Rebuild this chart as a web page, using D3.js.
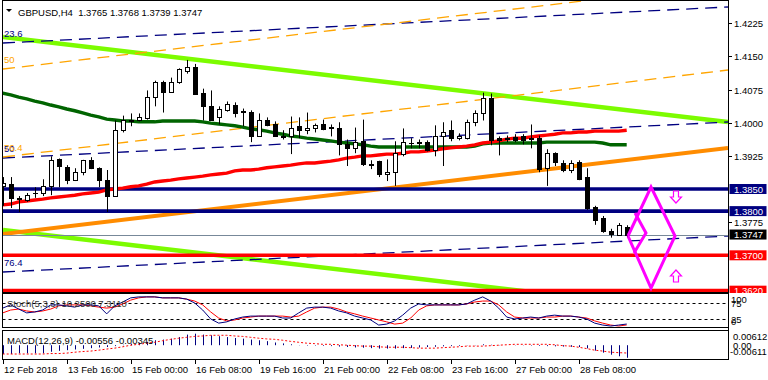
<!DOCTYPE html>
<html><head><meta charset="utf-8">
<script src="https://cdn.jsdelivr.net/npm/d3@7"></script>
<style>
body{margin:0;background:#fff}
svg{display:block}
text{font-family:"Liberation Sans",Arial,sans-serif;font-size:9.5px}
</style>
</head><body>
<svg id="c" width="768" height="380"></svg>
<script>
// ---------- DATA ----------
const symbolTitle = "GBPUSD,H4  1.3765 1.3768 1.3739 1.3747";
const open  = [1.3857,1.3861,1.3829,1.3825,1.3840,1.3841,1.3857,1.3917,1.3899,1.3870,
 1.3888,1.3915,1.3897,1.3870,1.3834,1.3983,1.4004,1.4005,1.4010,1.4059,
 1.4091,1.4070,1.4091,1.4118,1.4127,1.4068,1.4037,1.4012,1.4028,1.4041,
 1.4026,1.4025,1.3969,1.4007,1.3998,1.3971,1.3969,1.3992,1.3983,1.3987,
 1.3996,1.3990,1.3989,1.3951,1.3942,1.3958,1.3907,1.3913,1.3884,1.3888,
 1.3929,1.3954,1.3955,1.3956,1.3938,1.3969,1.3983,1.3965,1.3965,1.4001,
 1.4023,1.4057,1.3965,1.3966,1.3967,1.3969,1.3965,1.3965,1.3897,1.3931,
 1.3908,1.3893,1.3911,1.3877,1.3809,1.3785,1.3755,1.3746,1.3765];
const high  = [1.3877,1.3877,1.3834,1.3841,1.3854,1.3872,1.3924,1.3919,1.3904,1.3897,
 1.3916,1.3922,1.3899,1.3893,1.4005,1.4016,1.4021,1.4021,1.4073,1.4095,
 1.4095,1.4102,1.4123,1.4142,1.4133,1.4077,1.4073,1.4037,1.4048,1.4046,
 1.4032,1.4028,1.4021,1.4012,1.4003,1.3983,1.4014,1.4012,1.4023,1.3998,
 1.4007,1.3996,1.4001,1.3962,1.3989,1.4007,1.3915,1.3914,1.3917,1.3958,
 1.3987,1.3965,1.3962,1.3960,1.3994,1.4001,1.4005,1.3976,1.4007,1.4028,
 1.4068,1.4066,1.3969,1.3971,1.3974,1.3974,1.3996,1.3971,1.3940,1.3933,
 1.3915,1.3915,1.3915,1.3897,1.3812,1.3789,1.3760,1.3773,1.3768];
const low   = [1.3812,1.3807,1.3798,1.3821,1.3830,1.3834,1.3836,1.3854,1.3861,1.3868,
 1.3881,1.3895,1.3854,1.3798,1.3832,1.3978,1.3992,1.4003,1.4007,1.4037,
 1.4023,1.4068,1.4088,1.4111,1.4063,1.4005,1.4005,1.3996,1.4025,1.4012,
 1.3992,1.3956,1.3968,1.3992,1.3968,1.3962,1.3929,1.3965,1.3974,1.3978,
 1.3983,1.3969,1.3926,1.3902,1.3931,1.3902,1.3895,1.3877,1.3868,1.3857,
 1.3924,1.3942,1.3942,1.3935,1.3924,1.3902,1.3958,1.3960,1.3962,1.3992,
 1.4005,1.3949,1.3926,1.3956,1.3956,1.3951,1.3942,1.3888,1.3857,1.3902,
 1.3888,1.3886,1.3870,1.3803,1.3769,1.3751,1.3740,1.3744,1.3739];
const close = [1.3863,1.3830,1.3827,1.3836,1.3842,1.3857,1.3915,1.3902,1.3870,1.3888,
 1.3915,1.3897,1.3870,1.3834,1.3983,1.4005,1.4006,1.4014,1.4059,1.4091,
 1.4070,1.4091,1.4122,1.4127,1.4064,1.4037,1.4007,1.4032,1.4043,1.4023,
 1.4024,1.3969,1.4005,1.3994,1.3969,1.3967,1.3987,1.3983,1.3987,1.3994,
 1.3985,1.3989,1.3951,1.3942,1.3956,1.3906,1.3905,1.3884,1.3888,1.3931,
 1.3956,1.3953,1.3957,1.3938,1.3969,1.3978,1.3965,1.3971,1.4001,1.4023,
 1.4057,1.3960,1.3960,1.3964,1.3962,1.3962,1.3964,1.3895,1.3931,1.3911,
 1.3893,1.3908,1.3872,1.3807,1.3780,1.3755,1.3749,1.3769,1.3747];

const maSlow = [1.4067,1.4063,1.4058,1.4054,1.4049,1.4045,1.4040,1.4036,1.4031,1.4027,
 1.4022,1.4017,1.4013,1.4008,1.4006,1.4004,1.4004,1.4002,1.4002,1.4002,
 1.4004,1.4004,1.4004,1.4004,1.4004,1.4002,1.3999,1.3997,1.3995,1.3993,
 1.3990,1.3986,1.3984,1.3981,1.3977,1.3974,1.3970,1.3968,1.3965,1.3963,
 1.3961,1.3959,1.3956,1.3954,1.3952,1.3950,1.3947,1.3945,1.3945,1.3945,
 1.3945,1.3945,1.3945,1.3945,1.3945,1.3945,1.3945,1.3945,1.3945,1.3947,
 1.3952,1.3954,1.3954,1.3954,1.3954,1.3954,1.3954,1.3954,1.3956,1.3956,
 1.3956,1.3956,1.3956,1.3956,1.3956,1.3954,1.3950,1.3950,1.3950];
const maFast = [1.3814,1.3816,1.3821,1.3823,1.3825,1.3827,1.3830,1.3832,1.3834,1.3836,
 1.3839,1.3841,1.3843,1.3848,1.3850,1.3852,1.3855,1.3857,1.3861,1.3866,
 1.3868,1.3870,1.3873,1.3875,1.3877,1.3879,1.3882,1.3884,1.3886,1.3891,
 1.3893,1.3893,1.3895,1.3898,1.3900,1.3902,1.3904,1.3907,1.3909,1.3909,
 1.3911,1.3913,1.3916,1.3920,1.3922,1.3925,1.3925,1.3927,1.3929,1.3929,
 1.3931,1.3934,1.3934,1.3936,1.3938,1.3941,1.3943,1.3945,1.3947,1.3950,
 1.3954,1.3956,1.3959,1.3963,1.3965,1.3965,1.3968,1.3970,1.3972,1.3974,
 1.3977,1.3977,1.3979,1.3979,1.3981,1.3981,1.3981,1.3981,1.3983];

const stochMain = [60,70,57,45,48,54,70,70,67,63, 70,70,67,42,67,79,92,95,95,95,
 92,92,92,88,76,54,26,13,17,26, 32,35,35,35,35,29,29,45,60,63,
 63,60,51,45,35,29,23,7,10,20, 38,60,73,70,70,70,70,70,73,85,
 95,82,60,32,26,29,32,29,35,38, 35,35,32,26,13,7,4,7,10.25];
const stochSignal = [45,54,57,51,48,51,57,67,70,70, 70,67,63,60,63,73,85,92,95,95,
 92,92,92,88,82,70,48,29,20,23, 29,32,35,35,35,35,32,35,48,60,
 63,63,57,48,42,35,29,23,17,10, 13,29,54,67,70,70,70,70,73,79,
 82,82,70,48,32,29,29,29,32,32, 35,35,32,29,20,13,7,4,7.31];

const macdMain = [-0.0039,-0.0039,-0.0036,-0.0036,-0.0036,-0.0036,-0.0029,-0.0025,-0.0022,-0.0019,
 -0.0016,-0.0013,-0.0010,-0.0008,-0.0004,0.0002,0.0007,0.0011,0.0015,0.0022,
 0.0025,0.0029,0.0036,0.0047,0.0051,0.0047,0.0044,0.0040,0.0036,0.0032,
 0.0029,0.0025,0.0022,0.0018,0.0012,0.0008,0.0004,-0.0001,-0.0002,-0.0002,
 -0.0003,-0.0004,-0.0006,-0.0008,-0.0010,-0.0011,-0.0013,-0.0015,-0.0015,-0.0015,
 -0.0013,-0.0012,-0.0010,-0.0008,-0.0007,-0.0005,-0.0004,-0.0003,-0.0001,0.0001,
 0.0004,0.0002,0.0001,0.0000,-0.0001,-0.0001,-0.0002,-0.0003,-0.0004,-0.0005,
 -0.0006,-0.0007,-0.0008,-0.0014,-0.0024,-0.0033,-0.0042,-0.0049,-0.00556];
const macdSignal = [-0.0039,-0.0039,-0.0039,-0.0039,-0.0039,-0.0039,-0.0037,-0.0037,-0.0035,-0.0031,
 -0.0028,-0.0026,-0.0022,-0.0017,-0.0013,-0.0007,0.0000,0.0004,0.0009,0.0013,
 0.0020,0.0026,0.0031,0.0035,0.0039,0.0041,0.0044,0.0044,0.0044,0.0041,
 0.0039,0.0035,0.0031,0.0028,0.0026,0.0022,0.0017,0.0013,0.0009,0.0007,
 0.0004,0.0004,0.0002,0.0000,-0.0002,-0.0004,-0.0004,-0.0007,-0.0009,-0.0009,
 -0.0009,-0.0011,-0.0013,-0.0013,-0.0013,-0.0011,-0.0009,-0.0007,-0.0004,-0.0004,
 -0.0004,-0.0002,0.0000,0.0002,0.0004,0.0004,0.0004,0.0004,0.0004,0.0002,
 -0.0002,-0.0004,-0.0009,-0.0015,-0.0022,-0.0026,-0.0031,-0.0033,-0.00345];

const timeTickIndex = [0,8,16,24,32,40,48,56,64,72];
const timeTickLabels = ["12 Feb 2018","13 Feb 16:00","15 Feb 00:00","16 Feb 08:00","19 Feb 16:00",
 "21 Feb 00:00","22 Feb 08:00","23 Feb 16:00","27 Feb 00:00","28 Feb 08:00"];
const priceTicks = [1.4225,1.4150,1.4075,1.4000,1.3925,1.3775];
const levelPrices = [1.3850,1.3800,1.3700,1.3620];
const levelKinds  = ["blue","blue","red","red"];
const bidPrice = 1.3747;
const stochLevels = [75,25];
const stochAxisLabels = ["100","75","25","0"];
const stochAxisValues = [100,75,25,0];
const macdAxisValues = [0.00612,0.00,-0.00611];
const macdAxisLabels = ["0.00612","0.00","-0.00611"];
const stochTitle = "Stoch(5,3,3) 10.2500 7.3110";
const macdTitle = "MACD(12,26,9) -0.00556 -0.00345";

// trend objects: anchor (bar index, price) pairs
const lineNames = ["limeTop","limeBottom","orangeBase","navyTop","navyMid","navyLow","orangeTop","orangeMid"];
const lineI0 = [0.04,0.04,0.04,0.04,0.04,0.04,0.04,0.04];
const lineP0 = [1.41939,1.37572,1.37482,1.41803,1.39201,1.36622,1.41215,1.39224];
const lineI1 = [90.66,90.66,90.66,90.66,90.66,90.66,90.66,90.66];
const lineP1 = [1.40016,1.35649,1.39428,1.42618,1.40016,1.37437,1.43138,1.41192];
const fibLabels = ["23.6","76.4","50","50","76.4"];
const fibLabelLine = ["navyTop","navyLow","orangeTop","navyMid","orangeMid"];
// magenta pattern points (bar index, price)
const diamondI = [78.16,81.04,84.04,81.04,78.16];
const diamondP = [1.37437,1.38545,1.37437,1.36260,1.37437];
const chevronI = [79.04,80.41,78.91];
const chevronP = [1.37957,1.37505,1.37052];
const arrowI = [84.16,84.16];
const arrowP = [1.38319,1.36532];
const arrowDir = ["down","up"];

// ---------- DRAW ----------
const svg = d3.select("#c");
const plotL = 2.5, plotR = 728.5;
const x = d3.scaleLinear().domain([0, 90.6625]).range([2.7, 728]);
const y = d3.scaleLinear().domain([1.36170, 1.42776]).range([292, 0]);
const ys = d3.scaleLinear().domain([0,100]).range([327.3,295.3]);
const ym = d3.scaleLinear().domain([-0.00611,0.00612]).range([359,331.4]);

const defs = svg.append("defs");
defs.append("clipPath").attr("id","cm").append("rect").attr("x",3).attr("y",0).attr("width",725).attr("height",292.5);
defs.append("clipPath").attr("id","cs").append("rect").attr("x",3).attr("y",294).attr("width",725).attr("height",33);
defs.append("clipPath").attr("id","cd").append("rect").attr("x",3).attr("y",331).attr("width",725).attr("height",28);
defs.append("clipPath").attr("id","ct").append("rect").attr("x",728).attr("y",0).attr("width",40).attr("height",293);

const main = svg.append("g").attr("clip-path","url(#cm)");

const lineStyle = {
  limeTop:{c:"#7cfc00",w:4.5,d:null}, limeBottom:{c:"#7cfc00",w:4.5,d:null},
  orangeBase:{c:"#ff8c00",w:4,d:null},
  navyTop:{c:"#000080",w:1.3,d:"12,7"}, navyMid:{c:"#000080",w:1.3,d:"12,7"}, navyLow:{c:"#000080",w:1.3,d:"12,7"},
  orangeTop:{c:"#ffa500",w:1.3,d:"12,7"}, orangeMid:{c:"#ffa500",w:1.3,d:"12,7"}
};
const lines = lineNames.map((n,k)=>({n, i0:lineI0[k], p0:lineP0[k], i1:lineI1[k], p1:lineP1[k]}));
main.selectAll("line.tl").data(lines).join("line").attr("class","tl")
  .attr("x1",d=>x(d.i0)).attr("y1",d=>y(d.p0)).attr("x2",d=>x(d.i1)).attr("y2",d=>y(d.p1))
  .attr("stroke",d=>lineStyle[d.n].c).attr("stroke-width",d=>lineStyle[d.n].w)
  .attr("stroke-dasharray",d=>lineStyle[d.n].d);

levelPrices.forEach((p,k)=>{
  main.append("line").attr("x1",plotL).attr("x2",plotR).attr("y1",y(p)).attr("y2",y(p))
    .attr("stroke",levelKinds[k]==="blue"?"#000080":"#ff0000").attr("stroke-width",3.6);
});
main.append("line").attr("x1",plotL).attr("x2",plotR).attr("y1",Math.round(y(bidPrice))+0.5).attr("y2",Math.round(y(bidPrice))+0.5)
  .attr("stroke","#778899").attr("stroke-width",1);

const lineGen = d3.line().x((d,i)=>x(i)).y(d=>y(d));
main.append("path").attr("d",lineGen(maSlow)).attr("fill","none").attr("stroke","#006400").attr("stroke-width",3.4);
main.append("path").attr("d",lineGen(maFast)).attr("fill","none").attr("stroke","#ff0000").attr("stroke-width",3.4);

fibLabels.forEach((t,k)=>{
  const ln = lines.find(l=>l.n===fibLabelLine[k]);
  const col = lineStyle[ln.n].c;
  main.append("text").attr("x",4).attr("y",y(ln.p0)-6).attr("fill",col).text(t);
});

const bars = open.map((o,i)=>({i,o,h:high[i],l:low[i],c:close[i]}));
const cg = main.append("g");
bars.forEach(b=>{
  const cx = Math.round(x(b.i));
  cg.append("line").attr("x1",cx+0.5).attr("x2",cx+0.5).attr("y1",y(b.h)).attr("y2",y(b.l)).attr("stroke","#000").attr("stroke-width",1);
  const top = Math.round(y(Math.max(b.o,b.c))), bot = Math.round(y(Math.min(b.o,b.c)));
  if (bot-top < 1) {
    cg.append("line").attr("x1",cx-2).attr("x2",cx+3).attr("y1",top+0.5).attr("y2",top+0.5).attr("stroke","#000");
  } else {
    cg.append("rect").attr("x",cx-1.5).attr("y",top+0.5).attr("width",4).attr("height",bot-top)
      .attr("fill",b.c>=b.o?"#fff":"#000").attr("stroke","#000").attr("stroke-width",1);
  }
});

const mg = main.append("g");
const dpts = diamondI.map((v,k)=>[x(v),y(diamondP[k])]);
mg.append("path").attr("d",d3.line()(dpts)).attr("fill","none").attr("stroke","#ff00ff").attr("stroke-width",3);
const cpts = chevronI.map((v,k)=>[x(v),y(chevronP[k])]);
mg.append("path").attr("d",d3.line()(cpts)).attr("fill","none").attr("stroke","#ff00ff").attr("stroke-width",3);
arrowI.forEach((v,k)=>{
  const ax = x(v), ay = y(arrowP[k]);
  const s = arrowDir[k]==="down"?1:-1;
  const pts = [[ax-2.5,ay-6*s],[ax+2.5,ay-6*s],[ax+2.5,ay],[ax+5.5,ay],[ax,ay+6*s],[ax-5.5,ay],[ax-2.5,ay]];
  mg.append("path").attr("d",d3.line()(pts)+"Z").attr("fill","#fff").attr("stroke","#ff00ff").attr("stroke-width",1.2);
});

svg.append("path").attr("d","M6,9 L12,9 L9,12 Z").attr("fill","#000");
svg.append("text").attr("x",18).attr("y",15.5).attr("fill","#000").attr("xml:space","preserve").text(symbolTitle);

svg.append("rect").attr("x",plotL).attr("y",0.5).attr("width",plotR-plotL).attr("height",292).attr("fill","none").attr("stroke","#000");
svg.append("rect").attr("x",plotL).attr("y",293.5).attr("width",plotR-plotL).attr("height",34).attr("fill","none").attr("stroke","#000");
svg.append("rect").attr("x",plotL).attr("y",330.5).attr("width",plotR-plotL).attr("height",29).attr("fill","none").attr("stroke","#000");

const ax = svg.append("g");
priceTicks.forEach(p=>{
  const yy = Math.round(y(p))+0.5;
  ax.append("line").attr("x1",728.5).attr("x2",732).attr("y1",yy).attr("y2",yy).attr("stroke","#000");
  ax.append("text").attr("x",734).attr("y",yy+3.5).attr("fill","#000").text(p.toFixed(4));
});
const tg = svg.append("g").attr("clip-path","url(#ct)");
function tag(p, bg){
  const yy = y(p);
  tg.append("rect").attr("x",729.5).attr("y",yy-5).attr("width",37).attr("height",10).attr("fill",bg);
  tg.append("text").attr("x",734).attr("y",yy+3.5).attr("fill","#fff").text(p.toFixed(4));
}
levelPrices.forEach((p,k)=>tag(p, levelKinds[k]==="blue"?"#000080":"#ff0000"));
tag(bidPrice,"#000");

const sg = svg.append("g").attr("clip-path","url(#cs)");
stochLevels.forEach(v=>{
  sg.append("line").attr("x1",plotL).attr("x2",plotR).attr("y1",Math.round(ys(v))+0.5).attr("y2",Math.round(ys(v))+0.5)
    .attr("stroke","#000").attr("stroke-dasharray","3,3");
});
const sLine = d3.line().x((d,i)=>x(i)).y(d=>ys(d));
sg.append("path").attr("d",sLine(stochSignal)).attr("fill","none").attr("stroke","#ff0000").attr("stroke-width",1);
sg.append("path").attr("d",sLine(stochMain)).attr("fill","none").attr("stroke","#000080").attr("stroke-width",1);
svg.append("text").attr("x",7).attr("y",306.5).attr("fill","#333").text(stochTitle);
stochAxisValues.forEach((v,k)=>{
  const yc = Math.min(Math.max(ys(v), 299), 321);
  svg.append("text").attr("x",731).attr("y",yc+3.5).attr("fill","#000").text(stochAxisLabels[k]);
});

const mgp = svg.append("g").attr("clip-path","url(#cd)");
macdMain.forEach((v,i)=>{
  const cx = Math.round(x(i))+0.5;
  mgp.append("line").attr("x1",cx).attr("x2",cx).attr("y1",ym(0)).attr("y2",ym(v)).attr("stroke","#000080").attr("stroke-width",1);
});
mgp.append("path").attr("d",d3.line().x((d,i)=>x(i)).y(d=>ym(d))(macdSignal)).attr("fill","none")
  .attr("stroke","#ff0000").attr("stroke-width",1).attr("stroke-dasharray","2,2");
svg.append("text").attr("x",7).attr("y",343.5).attr("fill","#000").text(macdTitle);
macdAxisValues.forEach((v,k)=>{
  const yc = Math.min(Math.max(ym(v), 336.7), 351.7);
  svg.append("text").attr("x",k===2?730:733).attr("y",yc+3.4).attr("fill","#000").text(macdAxisLabels[k]);
});

timeTickIndex.forEach((ti,k)=>{
  const tx = Math.round(x(ti))+0.5;
  svg.append("line").attr("x1",tx).attr("x2",tx).attr("y1",360).attr("y2",364).attr("stroke","#000");
  svg.append("text").attr("x",tx+0.5).attr("y",373).attr("fill","#000").text(timeTickLabels[k]);
});
svg.append("line").attr("x1",728.5).attr("x2",728.5).attr("y1",0).attr("y2",360).attr("stroke","#000");
</script>
</body></html>
